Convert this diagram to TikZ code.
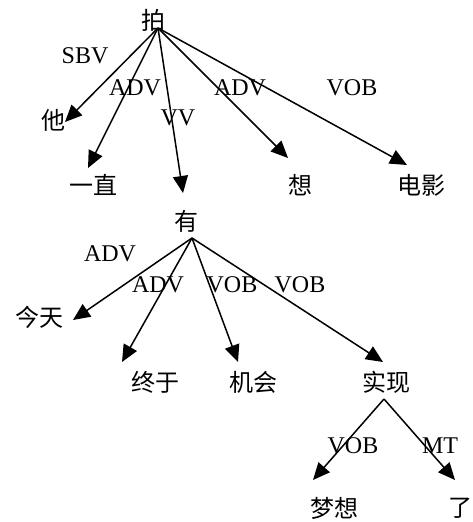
\documentclass[tikz,border=0pt]{standalone}
\usepackage{fontspec}
\setmainfont{Liberation Serif}
\newfontfamily\cjk{Noto Sans CJK SC}
\usetikzlibrary{arrows.meta,calc}
\begin{document}
\begin{tikzpicture}[x=1pt,y=-1pt,
  word/.style={font=\cjk\fontsize{24}{28}\selectfont,inner sep=0pt},
  rel/.style={font=\fontsize{24}{28}\selectfont,inner sep=0pt},
  dep/.style={line width=1.5pt,-{Triangle[length=17pt,width=15pt]}}]
\useasboundingbox (0,0) rectangle (472,522);
% words
\node[word] (pai) at (153,20) {拍};
\node[word] (ta) at (53,120) {他};
\node[word] (yizhi) at (93,185) {一直};
\node[word] (you) at (186,221) {有};
\node[word] (xiang) at (300,185) {想};
\node[word] (dianying) at (421,185) {电影};
\node[word] (jintian) at (40,317) {今天};
\node[word] (zhongyu) at (155,382) {终于};
\node[word] (jihui) at (253,382) {机会};
\node[word] (shixian) at (386,382) {实现};
\node[word] (mengxiang) at (334,508) {梦想};
\node[word] (le) at (460,508) {了};
% connector ends
\coordinate (pai-o) at (158,28);
\coordinate (you-o) at (192,238);
\coordinate (shixian-o) at (384,399);
\coordinate (ta-i) at (65,122);
\coordinate (yizhi-i) at (88,168);
\coordinate (you-i) at (183,193);
\coordinate (xiang-i) at (288,158);
\coordinate (dianying-i) at (407,165);
\coordinate (jintian-i) at (73,320);
\coordinate (zhongyu-i) at (122,362);
\coordinate (jihui-i) at (238,362);
\coordinate (shixian-i) at (383,362);
\coordinate (mengxiang-i) at (313,480);
\coordinate (le-i) at (455,480);
% connectors
\draw[dep] (pai-o) -- (ta-i);
\draw[dep] (pai-o) -- (yizhi-i);
\draw[dep] (pai-o) -- (you-i);
\draw[dep] (pai-o) -- (xiang-i);
\draw[dep] (pai-o) -- (dianying-i);
\draw[dep] (you-o) -- (jintian-i);
\draw[dep] (you-o) -- (zhongyu-i);
\draw[dep] (you-o) -- (jihui-i);
\draw[dep] (you-o) -- (shixian-i);
\draw[dep] (shixian-o) -- (mengxiang-i);
\draw[dep] (shixian-o) -- (le-i);
% labels
\node[rel] (l1) at (85,56) {SBV};
\node[rel] (l2) at (135,88) {ADV};
\node[rel] (l3) at (178,118) {VV};
\node[rel] (l4) at (240,88) {ADV};
\node[rel] (l5) at (352,88) {VOB};
\node[rel] (l6) at (110,254) {ADV};
\node[rel] (l7) at (158,285) {ADV};
\node[rel] (l8) at (232,285) {VOB};
\node[rel] (l9) at (300,285) {VOB};
\node[rel] (l10) at (353,446) {VOB};
\node[rel] (l11) at (440,446) {MT};
\end{tikzpicture}
\end{document}
